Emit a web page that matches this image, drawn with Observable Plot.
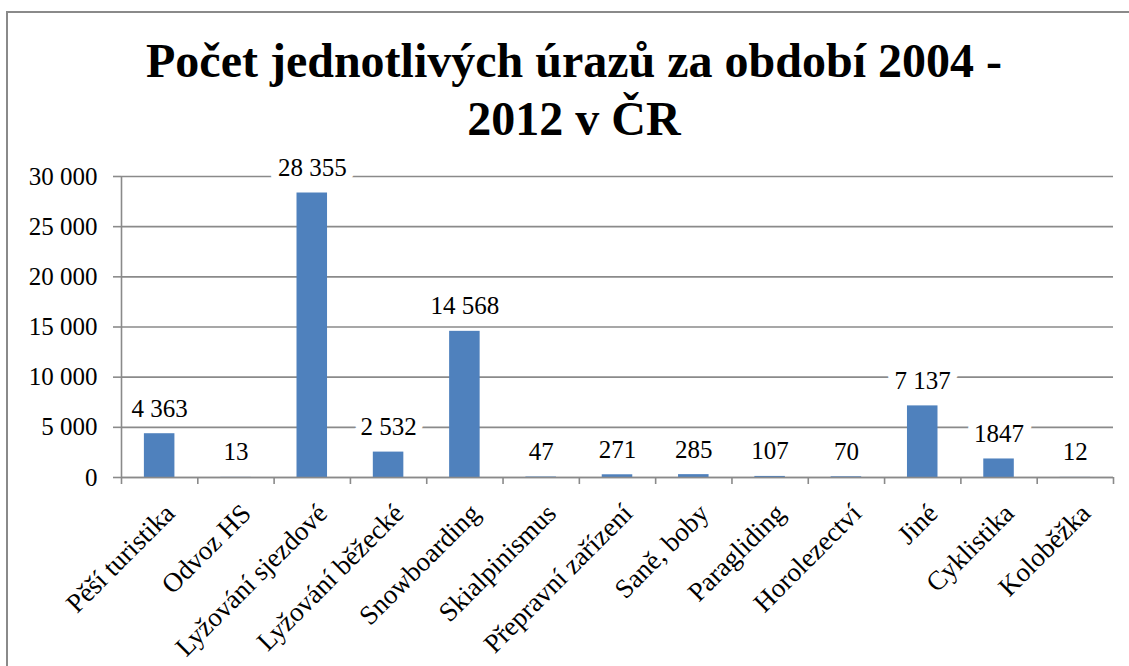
<!DOCTYPE html>
<html><head><meta charset="utf-8">
<script src="https://cdn.jsdelivr.net/npm/d3@7"></script>
<script src="https://cdn.jsdelivr.net/npm/@observablehq/plot@0.6"></script>
<style>
body{margin:0;background:#fff;}
#wrap{position:relative;width:1129px;height:666px;overflow:hidden;color:#000;}
#frame{position:absolute;left:6px;top:11px;width:1200px;height:700px;border-left:2px solid #8a8a8a;border-top:2px solid #8a8a8a;}
#title{position:absolute;left:20px;width:1108px;top:32px;text-align:center;font-weight:bold;font-size:48px;line-height:58px;}
#chart{position:absolute;left:0;top:150px;}
</style></head><body>
<div id="wrap"><div id="frame"></div><div id="title" style="font-family:'Liberation Serif'">Počet jednotlivých úrazů za období 2004 -<br>2012 v ČR</div><div id="chart" style="font-family:'Liberation Serif'"></div></div>
<script>
const categories = ["Pěší turistika","Odvoz HS","Lyžování sjezdové","Lyžování běžecké","Snowboarding","Skialpinismus","Přepravní zařízení","Saně, boby","Paragliding","Horolezectví","Jiné","Cyklistika","Koloběžka"];
const values = [4363, 13, 28355, 2532, 14568, 47, 271, 285, 107, 70, 7137, 1847, 12];
const valueLabels = ["4 363","13","28 355","2 532","14 568","47","271","285","107","70","7 137","1847","12"];
const yTicks = [0, 5000, 10000, 15000, 20000, 25000, 30000];
const yTickLabels = ["0","5 000","10 000","15 000","20 000","25 000","30 000"];

const data = categories.map((c, i) => ({i, name: c, value: values[i], label: valueLabels[i]}));
const grid = "#8a8a8a";
const serif = "Liberation Serif";

const chart = Plot.plot({
  width: 1129,
  height: 516,
  marginLeft: 121,
  marginRight: 16,
  marginTop: 26,
  marginBottom: 189,
  style: {fontFamily: serif, fontSize: "25px", background: "transparent", color: "#000"},
  x: {type: "linear", domain: [0, categories.length], axis: null},
  y: {domain: [0, 30000], axis: null},
  marks: [
    Plot.gridY(yTicks, {stroke: grid, strokeOpacity: 1, strokeWidth: 1.6}),
    Plot.axisY({ticks: yTicks, tickFormat: d => yTickLabels[yTicks.indexOf(d)], tickSize: 8, tickPadding: 16, stroke: grid, strokeWidth: 1.6, fontSize: 25, fontFamily: serif, label: null}),
    Plot.axisX({ticks: d3.range(0, categories.length + 1), tickFormat: () => "", tickSize: 7, stroke: grid, strokeWidth: 1.6, label: null}),
    Plot.ruleX([0], {stroke: grid, strokeWidth: 1.6}),
    Plot.rectY(data, {x1: d => d.i + 0.3, x2: d => d.i + 0.7, y: "value", fill: "#4F81BD"}),
    Plot.ruleY([0], {stroke: grid, strokeWidth: 1.6}),
    Plot.text(data, {x: d => d.i + 0.5, y: "value", text: "label", dy: -25, fontSize: 25, fontFamily: serif, fill: "#000", stroke: "white", strokeWidth: 16, strokeLinejoin: "round", paintOrder: "stroke"}),
    Plot.text(data, {x: d => d.i + 0.5, y: () => 0, text: "name", rotate: -45, textAnchor: "end", lineAnchor: "top", dx: 3, dy: 24, fontSize: 27, fontFamily: serif, fill: "#000"})
  ]
});
d3.select(chart).attr("font-family", serif).selectAll("text").attr("font-family", serif).style("font-family", serif);
document.getElementById("chart").appendChild(chart);
</script>
</body></html>
